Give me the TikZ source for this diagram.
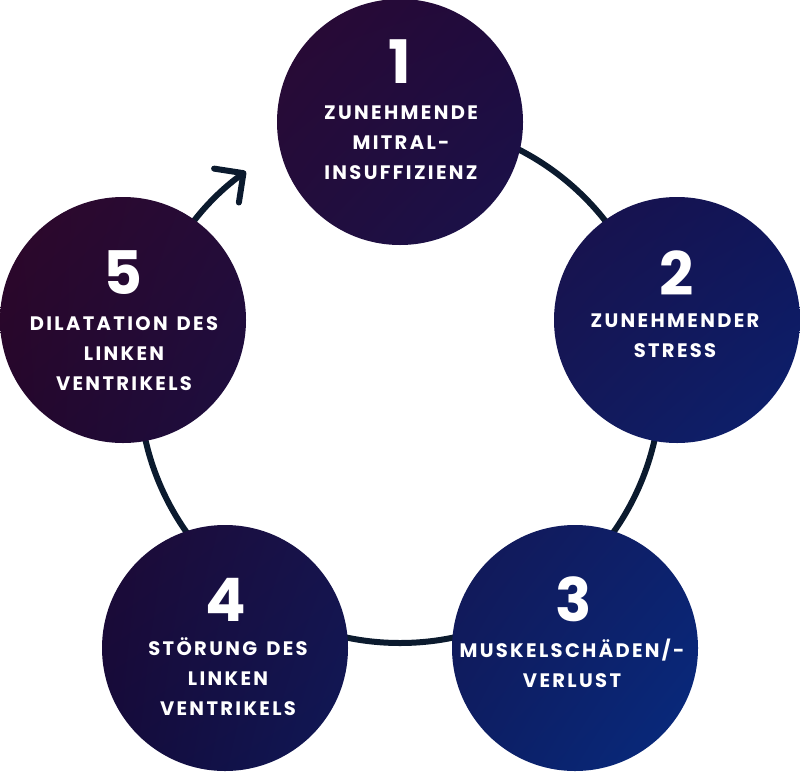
\documentclass[tikz,border=0pt]{standalone}
\usepackage{fontspec}
\setmainfont{Poppins}
\newfontfamily\labfont[LetterSpace=12,WordSpace=1.4]{Poppins}
\usetikzlibrary{arrows.meta,shadings}
\definecolor{ringcol}{HTML}{0B1A2E}
\definecolor{gUL}{HTML}{360828}
\definecolor{gUR}{HTML}{140C48}
\definecolor{gLL}{HTML}{16052E}
\definecolor{gLR}{HTML}{05318C}
\tikzset{
  ringline/.style={draw=ringcol, line width=6pt, line cap=round},
  bubble/.style={circle, minimum size=246pt, inner sep=0pt},
  digit/.style={text=white, font=\bfseries\fontsize{60}{60}\selectfont},
  caption/.style={text=white, align=center, inner sep=0pt,
    font=\labfont\bfseries\fontsize{19.5}{30}\selectfont}
}
\begin{document}
\begin{tikzpicture}[x=1pt,y=1pt]
\useasboundingbox (0,0) rectangle (800,-771);
\coordinate (rc) at (400,-382);
\coordinate (c1) at (400,-122);
\coordinate (c2) at (677,-320);
\coordinate (c3) at (575,-648);
\coordinate (c4) at (225,-648);
\coordinate (c5) at (123,-320);
% ring with arrow
\draw[ringline, -{Straight Barb[length=21pt, width=42pt, line cap=round, line join=round]}]
  (rc) ++(90:261pt) arc[start angle=90, end angle=-233.8, radius=261pt];
% shaded circles
\begin{scope}
\clip (c1) circle[radius=123pt] (c2) circle[radius=123pt] (c3) circle[radius=123pt]
      (c4) circle[radius=123pt] (c5) circle[radius=123pt];
\shade[upper left=gUL, upper right=gUR, lower left=gLL, lower right=gLR]
  (0,0) rectangle (800,-771);
\end{scope}
\node[bubble] (n1) at (c1) {};
\node[bubble] (n2) at (c2) {};
\node[bubble] (n3) at (c3) {};
\node[bubble] (n4) at (c4) {};
\node[bubble] (n5) at (c5) {};
% digits
\node[digit] (d1) at (400,-62) {1};
\node[digit] (d2) at (677,-273) {2};
\node[digit] (d3) at (574,-599) {3};
\node[digit] (d4) at (226,-600) {4};
\node[digit] (d5) at (123,-273) {5};
% captions
\node[caption] (t1) at (401,-143) {ZUNEHMENDE\\MITRAL-\\INSUFFIZIENZ};
\node[caption] (t2) at (675,-336) {ZUNEHMENDER\\STRESS};
\node[caption] (t3) at (572,-663) {MUSKELSCHÄDEN/-\\VERLUST};
\node[caption] (t4) at (228,-677) {STÖRUNG DES\\LINKEN\\VENTRIKELS};
\node[caption] (t5) at (124,-354) {DILATATION DES\\LINKEN\\VENTRIKELS};
\end{tikzpicture}
\end{document}
